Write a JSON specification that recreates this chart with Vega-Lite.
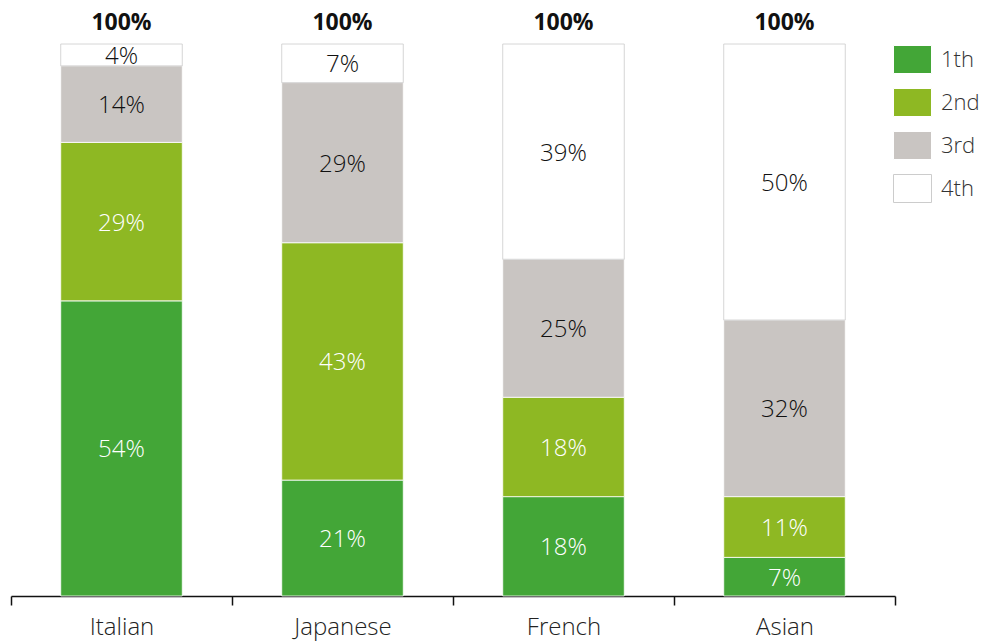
{
  "$schema": "https://vega.github.io/schema/vega-lite/v6.json",
  "width": 884,
  "height": 552,
  "autosize": "none",
  "padding": {"left": 11, "top": 44, "right": 89, "bottom": 47},
  "background": "white",
  "config": {"view": {"stroke": null}, "font": "Open Sans"},
  "datasets": {
    "shares": [
      {"cuisine": "Italian", "rank": "1th", "value": 54},
      {"cuisine": "Italian", "rank": "2nd", "value": 29},
      {"cuisine": "Italian", "rank": "3rd", "value": 14},
      {"cuisine": "Italian", "rank": "4th", "value": 4},
      {"cuisine": "Japanese", "rank": "1th", "value": 21},
      {"cuisine": "Japanese", "rank": "2nd", "value": 43},
      {"cuisine": "Japanese", "rank": "3rd", "value": 29},
      {"cuisine": "Japanese", "rank": "4th", "value": 7},
      {"cuisine": "French", "rank": "1th", "value": 18},
      {"cuisine": "French", "rank": "2nd", "value": 18},
      {"cuisine": "French", "rank": "3rd", "value": 25},
      {"cuisine": "French", "rank": "4th", "value": 39},
      {"cuisine": "Asian", "rank": "1th", "value": 7},
      {"cuisine": "Asian", "rank": "2nd", "value": 11},
      {"cuisine": "Asian", "rank": "3rd", "value": 32},
      {"cuisine": "Asian", "rank": "4th", "value": 50}
    ],
    "totals": [
      {"cuisine": "Italian", "total": "100%"},
      {"cuisine": "Japanese", "total": "100%"},
      {"cuisine": "French", "total": "100%"},
      {"cuisine": "Asian", "total": "100%"}
    ]
  },
  "encoding": {
    "x": {
      "field": "cuisine",
      "type": "nominal",
      "sort": ["Italian", "Japanese", "French", "Asian"],
      "scale": {"paddingInner": 0, "paddingOuter": 0},
      "axis": {
        "title": null,
        "labelAngle": 0,
        "domainColor": "#111",
        "domainWidth": 1.5,
        "tickColor": "#111",
        "tickWidth": 1.5,
        "tickSize": 9,
        "tickBand": "extent",
        "labelFontSize": 24,
        "labelFontWeight": 300,
        "labelColor": "#222",
        "labelPadding": 10,
        "labelFont": "Open Sans"
      }
    }
  },
  "layer": [
    {
      "data": {"name": "shares"},
      "mark": {"type": "bar", "strokeWidth": 0.8, "width": {"band": 0.55}},
      "encoding": {
        "y": {"field": "value", "type": "quantitative", "stack": "normalize", "axis": null},
        "color": {
          "field": "rank",
          "type": "nominal",
          "scale": {"domain": ["1th", "2nd", "3rd", "4th"], "range": ["#43a637", "#8eb823", "#c9c5c2", "#ffffff"]},
          "legend": {
            "orient": "none", "legendX": 882, "legendY": -4, "title": null,
            "symbolType": "M-1,-0.737H1V0.737H-1Z", "symbolSize": 1444,
            "labelFontSize": 22, "labelFontWeight": 300, "labelColor": "#333", "labelOffset": 9, "rowPadding": 7,
            "symbolStrokeWidth": 1, "labelFont": "Open Sans", "padding": 0
          }
        },
        "stroke": {
          "field": "rank",
          "type": "nominal",
          "scale": {"domain": ["1th", "2nd", "3rd", "4th"], "range": ["#ffffff", "#ffffff", "#ffffff", "#cccccc"]},
          "legend": {
            "orient": "none", "legendX": 882, "legendY": -4, "title": null,
            "symbolType": "M-1,-0.737H1V0.737H-1Z", "symbolSize": 1444,
            "labelFontSize": 22, "labelFontWeight": 300, "labelColor": "#333", "labelOffset": 9, "rowPadding": 7,
            "symbolStrokeWidth": 1, "labelFont": "Open Sans", "padding": 0
          }
        },
        "order": {"field": "rank", "type": "ordinal"}
      }
    },
    {
      "data": {"name": "shares"},
      "transform": [{"calculate": "datum.value + '%'", "as": "label"}],
      "mark": {"type": "text", "fontSize": 24, "fontWeight": 300, "font": "Open Sans", "baseline": "middle", "dy": 2},
      "encoding": {
        "y": {"field": "value", "type": "quantitative", "stack": "normalize", "bandPosition": 0.5},
        "detail": {"field": "rank", "type": "nominal"},
        "order": {"field": "rank", "type": "ordinal"},
        "text": {"field": "label", "type": "nominal"},
        "color": {
          "condition": {"test": "datum.rank == '1th' || datum.rank == '2nd'", "value": "#ffffff"},
          "value": "#111111"
        }
      }
    },
    {
      "data": {"name": "totals"},
      "mark": {"type": "text", "fontSize": 23, "fontWeight": "bold", "font": "Open Sans", "dy": -21, "color": "#111", "baseline": "middle"},
      "encoding": {
        "y": {"datum": 1, "type": "quantitative"},
        "text": {"field": "total", "type": "nominal"}
      }
    }
  ]
}
